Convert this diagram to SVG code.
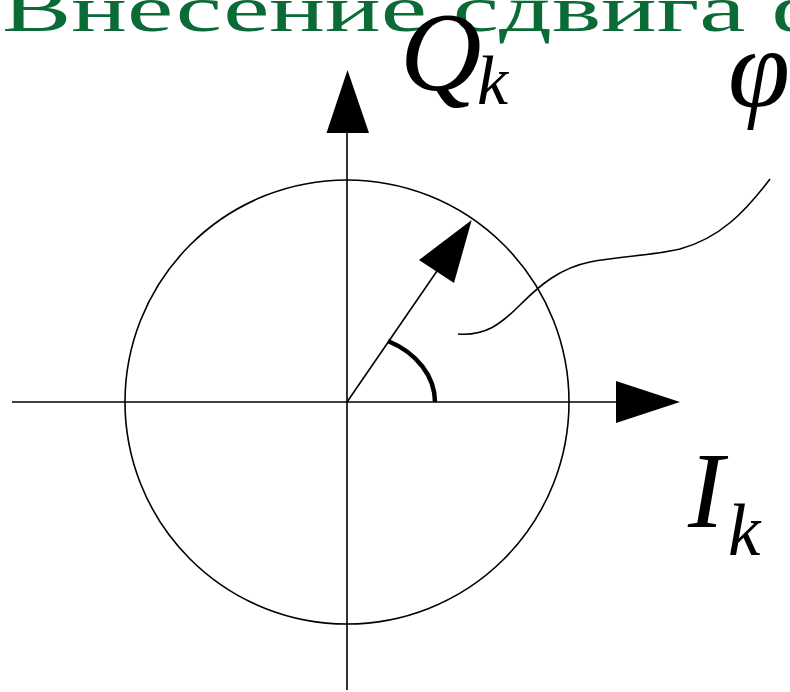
<svg xmlns="http://www.w3.org/2000/svg" width="790" height="692" viewBox="0 0 790 692">
<style>
.ln{fill:none;stroke:#000;stroke-width:1.6}
.ah{fill:#000;stroke:none}
.it{font-family:"Liberation Serif","Times New Roman",serif;font-style:italic;fill:#000}
.title{font-family:"Liberation Serif","Times New Roman",serif;fill:#0a6b37}
</style>
<rect width="790" height="692" fill="#fff"/>
<text class="title" transform="translate(2,31) scale(1.6,1)" font-size="65">Внесение сдвига фазы</text>
<g id="circle"><circle class="ln" cx="347" cy="402" r="222"/></g>
<g id="connectors">
<line class="ln" x1="12" y1="402" x2="620" y2="402"/>
<polygon class="ah" points="680,402 616,381 616,423"/>
<line class="ln" x1="347" y1="690" x2="347" y2="130"/>
<polygon class="ah" points="347.5,70 326.5,133 369,133"/>
<line class="ln" x1="347" y1="402" x2="437" y2="271"/>
<polygon class="ah" points="471.7,220 419,260 454,283"/>
<path d="M388,341 A88,69 0 0 1 435,402" fill="none" stroke="#000" stroke-width="4.5"/>
<path class="ln" d="M458,334 C485,336 500,325 520,305 C540,285 560,268 590,262 C620,256 650,256 680,249 C720,238 745,212 770,179"/>
</g>
<g id="labels">
<text class="it" x="400" y="90" font-size="113">Q</text>
<text class="it" x="477" y="104" font-size="70">k</text>
<text class="it" x="728" y="106" font-size="112">φ</text>
<text class="it" x="688" y="527" font-size="108">I</text>
<text class="it" x="728" y="555" font-size="73">k</text>
</g>
</svg>
